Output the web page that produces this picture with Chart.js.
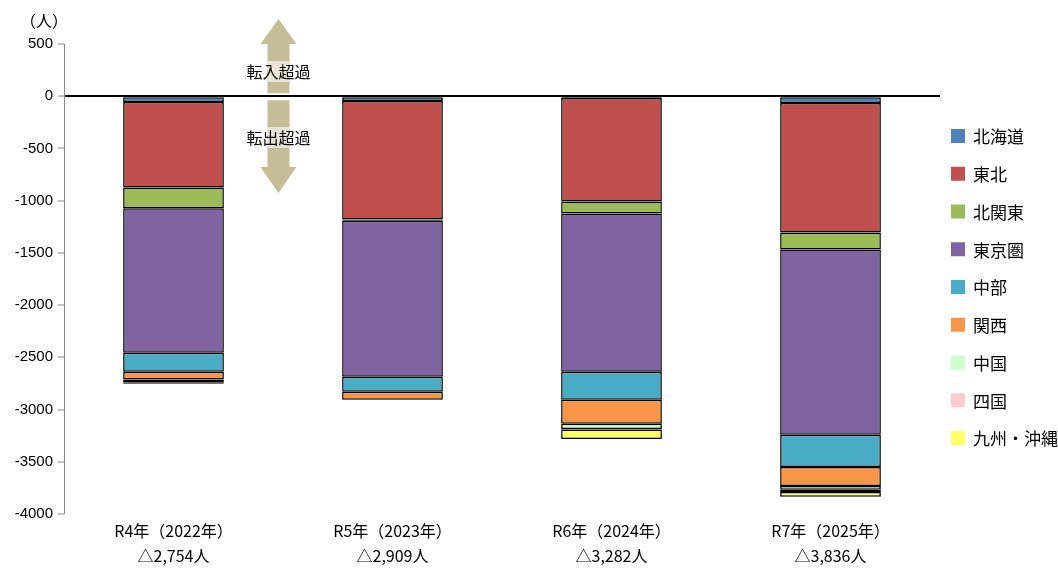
<!DOCTYPE html>
<html><head><meta charset="utf-8">
<script src="https://cdn.jsdelivr.net/npm/chart.js@4"></script>
<style>html,body{margin:0;padding:0;background:#fff;}canvas{display:block;}</style>
</head><body>
<canvas id="c" width="1058" height="571"></canvas>
<script>
const categories = [["R4年（2022年）","△2,754人"],["R5年（2023年）","△2,909人"],["R6年（2024年）","△3,282人"],["R7年（2025年）","△3,836人"]];
const seriesNames = ["北海道","東北","北関東","東京圏","中部","関西","中国","四国","九州・沖縄"];
const seriesColors = ["#4F81BD","#C0504D","#9BBB59","#8064A2","#4BACC6","#F79646","#CCFFCC","#FFCCCC","#FFFF66"];
const hokkaido = [-55, -45, -18, -65];
const tohoku   = [-818, -1135, -989, -1240];
const kitaKanto= [-200, -12, -115, -163];
const tokyoken = [-1382, -1494, -1516, -1774];
const chubu    = [-182, -144, -268, -307];
const kansai   = [-75, -76, -231, -182];
const chugoku  = [-15, -1, -48, -38];
const shikoku  = [-12, -1, -5, -20];
const kyushu   = [-15, -1, -92, -47];
const yTicks = [500,0,-500,-1000,-1500,-2000,-2500,-3000,-3500,-4000];
const unitLabel = "（人）";
const arrowUp = "転入超過", arrowDown = "転出超過";

const seriesData = [hokkaido,tohoku,kitaKanto,tokyoken,chubu,kansai,chugoku,shikoku,kyushu];
const CJK = '"Noto Sans CJK JP", "Noto Sans", sans-serif';

const decor = {
  id:'decor',
  afterDraw(chart){
    const ctx = chart.ctx;
    const y = chart.scales.y;
    ctx.save();
    ctx.fillStyle='#000'; ctx.font='16px '+CJK; ctx.textAlign='left'; ctx.textBaseline='middle';
    ctx.fillText(unitLabel, 20, 21);
    const cx = 278.5, sw = 22, hw = 36;
    const tan = '#C4BD97', light = '#E8E5D6';
    const y0 = y.getPixelForValue(0);
    ctx.fillStyle = tan;
    ctx.beginPath();
    ctx.moveTo(cx, 19); ctx.lineTo(cx+hw/2, 44); ctx.lineTo(cx+sw/2, 44); ctx.lineTo(cx+sw/2, y0-3);
    ctx.lineTo(cx-sw/2, y0-3); ctx.lineTo(cx-sw/2, 44); ctx.lineTo(cx-hw/2, 44); ctx.closePath(); ctx.fill();
    ctx.beginPath();
    ctx.moveTo(cx-sw/2, y0+4); ctx.lineTo(cx+sw/2, y0+4); ctx.lineTo(cx+sw/2, 167); ctx.lineTo(cx+hw/2, 167);
    ctx.lineTo(cx, 193); ctx.lineTo(cx-hw/2, 167); ctx.lineTo(cx-sw/2, 167); ctx.closePath(); ctx.fill();
    ctx.fillStyle = light;
    ctx.fillRect(cx-sw/2, 61, sw, 21);
    ctx.fillRect(cx-sw/2, 127, sw, 21);
    ctx.fillStyle = '#000'; ctx.font = '16px '+CJK; ctx.textAlign='center';
    ctx.fillText(arrowUp, cx, 72);
    ctx.fillText(arrowDown, cx, 138);
    ctx.textAlign='left';
    chart.data.datasets.forEach((ds,i)=>{
      const cy = 136 + i*37.75;
      ctx.fillStyle = ds.backgroundColor;
      ctx.fillRect(951, cy-7, 14, 14);
      ctx.fillStyle = '#000';
      ctx.font = '17px '+CJK;
      ctx.fillText(ds.label, 973, cy+1);
    });
    ctx.restore();
  }
};

new Chart(document.getElementById('c'), {
  type:'bar',
  data:{
    labels: categories,
    datasets: seriesNames.map((n,i)=>({
      label:n, data:seriesData[i], backgroundColor:seriesColors[i],
      borderColor:'#000', borderWidth:1.5, borderSkipped:false,
      categoryPercentage:1, barPercentage:0.46
    }))
  },
  options:{
    responsive:false, animation:false,
    layout:{padding:{top:44,right:118,left:0,bottom:0}},
    plugins:{legend:{display:false}, tooltip:{enabled:false}},
    scales:{
      x:{
        stacked:true,
        grid:{display:false, drawTicks:false},
        border:{display:false},
        ticks:{color:'#000', font:{family:CJK, size:16, lineHeight:1.55}, padding:5, maxRotation:0, autoSkip:false},
        afterFit(s){ s.height = 57; }
      },
      y:{
        stacked:true, min:-4000, max:500,
        afterBuildTicks(s){ s.ticks = yTicks.map(v=>({value:v})); },
        grid:{
          color:(c)=> c.tick && c.tick.value===0 ? '#000' : 'rgba(0,0,0,0)',
          lineWidth:(c)=> c.tick && c.tick.value===0 ? 2 : 0,
          drawTicks:true, tickLength:6, tickColor:'#888', tickWidth:1
        },
        border:{display:true, color:'#888', width:1},
        ticks:{color:'#000', font:{family:'"Liberation Sans", Arial, sans-serif', size:15}, padding:5,
               callback:(v)=>String(v)},
        afterFit(s){ s.width = 64; }
      }
    }
  },
  plugins:[decor]
});
</script>
</body></html>
